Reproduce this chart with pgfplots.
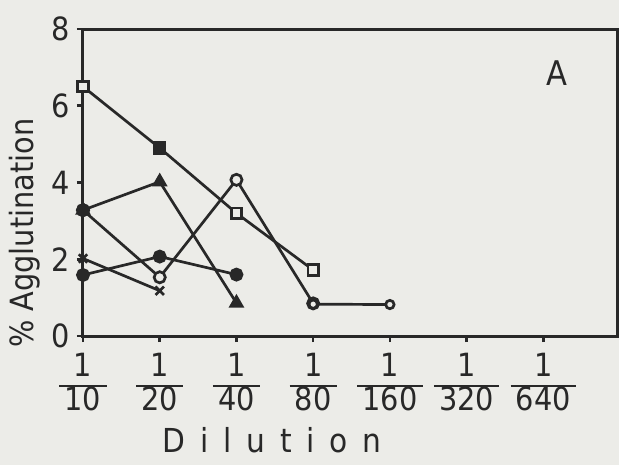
\documentclass[border=0pt]{standalone}
\usepackage{fontspec}
\setmainfont{DejaVu Sans Condensed}
\usepackage{pgfplots}
\pgfplotsset{compat=1.18}
\definecolor{paper}{RGB}{236,236,232}
\definecolor{ink}{RGB}{40,40,40}
\setlength\arrayrulewidth{1.1pt}
\newcommand\fr[2]{{\renewcommand\arraystretch{0.78}\begin{tabular}{@{\,}c@{\,}}#1\\\hline #2\end{tabular}}}
\begin{document}
\begin{tikzpicture}
\path[use as bounding box, fill=paper] (-41.5pt,-64.5pt) rectangle (268pt,168pt);
\begin{axis}[
  at={(0,0)}, anchor=south west,
  scale only axis, width=267pt, height=153.5pt,
  xmin=0, xmax=6.96, ymin=0, ymax=8,
  xtick={0,...,6},
  xticklabels={\fr{1}{10},\fr{1}{20},\fr{1}{40},\fr{1}{80},\fr{1}{160},\fr{1}{320},\fr{1}{640}},
  xticklabel style={yshift=-2pt},
  ytick={0,2,4,6,8},
  tick align=outside, major tick length=3pt,
  xtick pos=bottom, ytick pos=left,
  axis line style={ink, line width=1.5pt},
  every tick/.style={ink, line width=1.3pt},
  tick label style={font=\fontsize{16}{18}\selectfont, text=ink},
  /pgf/number format/assume math mode=true,
  clip=false,
  every axis plot/.append style={ink, line width=1.35pt},
]
% squares
\addplot[mark=square*, mark options={fill=paper, solid}, mark size=2.6pt] coordinates {(0,6.5)(1,4.9)(2,3.2)(3,1.72)};
\addplot[only marks, mark=square*, mark options={fill=ink}, mark size=2.6pt] coordinates {(1,4.9)};
% open circles
\addplot[mark=*, mark options={fill=paper}, mark size=2.8pt] coordinates {(0,3.28)(1,1.53)(2,4.07)(3,0.85)};
\addplot[mark=*, mark options={fill=paper}, mark size=2.1pt] coordinates {(3,0.83)(4,0.82)};
% triangles
\addplot[mark=triangle*, mark options={fill=ink}, mark size=3.2pt] coordinates {(0,3.28)(1,4.02)(2,0.86)};
\addplot[only marks, mark=*, mark options={fill=ink}, mark size=2.8pt] coordinates {(0,3.28)};
% filled circles
\addplot[mark=*, mark options={fill=ink}, mark size=2.8pt] coordinates {(0,1.59)(1,2.07)(2,1.6)};
% crosses
\addplot[mark=x, mark size=3pt] coordinates {(0,2.02)(1,1.18)};
\node[font=\fontsize{17}{18}\selectfont, text=ink] at (axis cs:6.18,6.85) {A};
\node[font=\fontsize{16}{18}\selectfont, text=ink, rotate=90] at (rel axis cs:-0.109,0.335) {\% Agglutination};
\node[font=\fontsize{16.5}{18}\selectfont, text=ink, anchor=base, inner sep=0pt] at (rel axis cs:0.354,-0.378) {D\hspace{0.45em}i\hspace{0.45em}l\hspace{0.45em}u\hspace{0.45em}t\hspace{0.45em}i\hspace{0.45em}o\hspace{0.45em}n};
\end{axis}
\end{tikzpicture}
\end{document}
